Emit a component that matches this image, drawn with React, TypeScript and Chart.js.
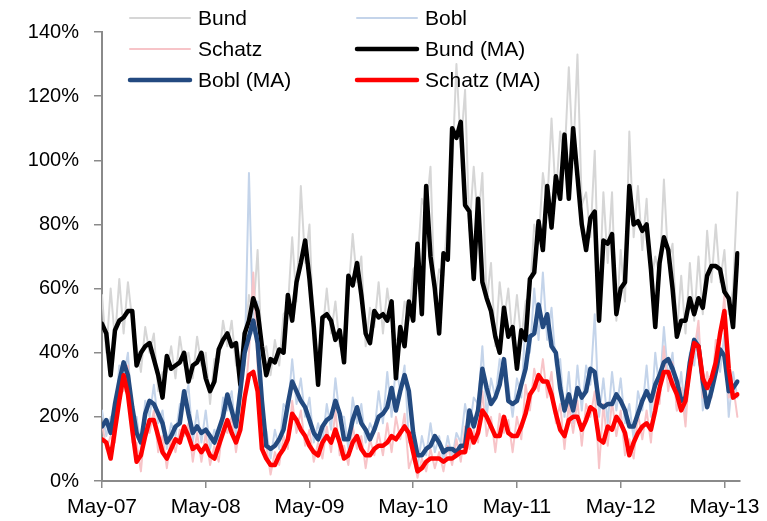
import React, { useEffect, useRef } from "react";
import { Chart, registerables } from "chart.js";

Chart.register(...registerables);

const FONT = "'Liberation Sans', Arial, sans-serif";

// x-axis tick labels and their positions (months since May-07)
const tickLabels = ["May-07", "May-08", "May-09", "May-10", "May-11", "May-12", "May-13"];
const tickMonths = [0, 12, 24, 36, 48, 60, 72];

// semi-monthly observations (values in %)
const bundRaw = [
  58, 40, 60, 44, 63, 46, 62, 50, 42, 34,
  48, 40, 46, 28, 34, 34, 42, 32, 45, 36,
  40, 32, 45, 36, 40, 24, 38, 37, 50, 42,
  50, 36, 38, 42, 58, 52, 72, 38, 42, 33,
  44, 36, 52, 54, 76, 56, 92, 68, 80, 44,
  40, 46, 60, 46, 56, 42, 46, 58, 77, 62,
  70, 42, 54, 48, 62, 46, 60, 50, 44, 44,
  56, 50, 66, 68, 88, 84, 98, 56, 66, 64,
  84, 96, 130, 104, 122, 78, 98, 80, 96, 56,
  68, 42, 62, 50, 60, 44, 58, 44, 56, 58,
  80, 74, 96, 86, 113, 88, 109, 100, 129, 100,
  133, 86, 90, 76, 103, 56, 90, 68, 90, 50,
  72, 56, 109, 76, 92, 72, 88, 62, 70, 64,
  94, 68, 74, 46, 64, 46, 68, 50, 70, 52,
  78, 62, 80, 62, 72, 52, 60, 90,
];
const boblRaw = [
  22, 14, 20, 20, 36, 32, 40, 18, 20, 10,
  25, 20, 30, 18, 22, 10, 18, 14, 24, 24,
  30, 12, 22, 12, 22, 10, 16, 12, 26, 22,
  28, 14, 34, 36, 96, 46, 56, 16, 16, 7,
  16, 10, 24, 22, 38, 24, 32, 20, 26, 12,
  18, 12, 24, 16, 32, 20, 20, 10, 26, 18,
  24, 12, 18, 15, 28, 18, 34, 20, 36, 28,
  36, 12, 13, 4, 14, 8, 18, 9, 14, 6,
  14, 7, 15, 12, 24, 16, 26, 24, 42, 20,
  32, 26, 38, 34, 30, 20, 32, 26, 50, 40,
  60, 44, 65, 44, 54, 36, 38, 20, 34, 18,
  36, 22, 36, 30, 52, 20, 32, 18, 34, 22,
  32, 18, 24, 13, 28, 22, 36, 20, 40, 28,
  48, 32, 40, 22, 34, 20, 40, 36, 48, 22,
  30, 26, 42, 34, 46, 20, 34, 26,
];
const schatzRaw = [
  18, 10, 14, 12, 32, 28, 36, 12, 12, 3,
  18, 15, 22, 9, 14, 4, 14, 9, 16, 14,
  18, 6, 15, 6, 15, 5, 11, 6, 18, 15,
  20, 9, 18, 24, 40, 65, 36, 10, 11, 2,
  9, 5, 14, 10, 25, 15, 22, 11, 16, 6,
  12, 7, 17, 9, 22, 8, 11, 5, 17, 10,
  14, 4, 13, 8, 15, 8, 18, 9, 20, 13,
  21, 4, 8, 1, 7, 3, 10, 4, 9, 3,
  11, 5, 13, 6, 17, 10, 16, 12, 28, 14,
  20, 9, 21, 15, 19, 9, 20, 13, 30, 22,
  35, 28, 38, 26, 34, 18, 24, 10, 24, 15,
  25, 11, 24, 20, 28, 4, 24, 11, 25, 14,
  22, 8, 13, 7, 21, 13, 22, 12, 28, 24,
  42, 28, 37, 22, 29, 17, 37, 40, 50, 26,
  34, 26, 44, 44, 58, 26, 30, 20,
];
const bundMA = [
  49, 46, 33, 47, 50, 51, 53, 53, 36, 40,
  42, 43, 38, 33, 26, 39, 35, 36, 37, 40,
  31, 36, 37, 40, 32, 28, 31, 41, 44, 46,
  42, 43, 30, 46, 50, 57, 53, 42, 33, 38,
  37, 41, 40, 58, 50, 62, 68, 75, 63, 48,
  30, 51, 52, 50, 44, 47, 37, 64, 61, 68,
  58, 46, 43, 53, 51, 52, 50, 56, 32, 48,
  42, 56, 50, 74, 52, 92, 70, 60, 46, 71,
  69, 110, 107, 112, 86, 84, 63, 88, 62, 57,
  53, 45, 40, 54, 45, 48, 35, 47, 44, 63,
  65, 81, 72, 92, 79, 95, 88, 108, 88, 110,
  95, 80, 72, 82, 84, 50, 75, 74, 77, 52,
  60, 62, 92, 80, 81, 78, 80, 66, 48, 68,
  76, 72, 60, 45, 50, 50, 57, 52, 57, 54,
  64, 67, 67, 66, 59, 57, 48, 71,
];
const boblMA = [
  17, 19, 15, 24, 31, 37, 33, 23, 15, 12,
  21, 25, 24, 21, 18, 12, 14, 17, 18, 28,
  21, 15, 17, 15, 16, 14, 12, 16, 20, 27,
  22, 17, 28, 40, 45, 50, 43, 25, 11, 10,
  11, 13, 16, 24, 31, 28, 25, 23, 19, 15,
  13, 17, 19, 20, 25, 21, 13, 13, 19, 23,
  18, 16, 13, 16, 20, 21, 23, 29, 22, 28,
  33, 28, 15, 8, 8, 10, 11, 14, 12, 9,
  10, 10, 9, 11, 11, 22, 17, 22, 35, 29,
  24, 26, 30, 38, 25, 24, 25, 30, 35, 45,
  46, 55, 48, 52, 42, 40, 29, 22, 27, 22,
  29, 26, 28, 35, 34, 24, 23, 24, 24, 27,
  25, 22, 17, 17, 21, 25, 28, 25, 30, 33,
  37, 38, 35, 31, 25, 26, 37, 44, 42, 31,
  23, 28, 34, 41, 39, 28, 29, 31,
];
const schatzMA = [
  13, 12, 7, 16, 25, 33, 27, 16, 6, 8,
  14, 19, 19, 14, 9, 7, 10, 13, 12, 17,
  14, 10, 11, 9, 11, 8, 7, 11, 15, 19,
  15, 12, 16, 26, 33, 34, 28, 10, 7, 5,
  5, 8, 10, 13, 21, 19, 16, 14, 11, 9,
  8, 12, 14, 12, 16, 12, 7, 8, 12, 14,
  10, 8, 8, 10, 11, 11, 12, 14, 13, 15,
  17, 15, 9, 3, 4, 6, 7, 7, 7, 6,
  7, 7, 8, 9, 9, 16, 12, 15, 22, 20,
  17, 14, 14, 20, 15, 14, 14, 17, 21, 27,
  29, 33, 31, 31, 27, 21, 16, 14, 19, 20,
  20, 16, 19, 23, 22, 13, 12, 17, 16, 20,
  18, 15, 8, 12, 15, 17, 18, 16, 22, 29,
  34, 34, 30, 27, 22, 25, 35, 43, 42, 32,
  29, 32, 37, 46, 53, 35, 26, 27,
];

// time axis: months since May-07, one observation every half month
const months = bundMA.map((_, i) => i / 2);

const toPoints = (vals: number[]) => vals.map((v, i) => ({ x: months[i], y: v }));

const legendPlugin = {
  id: "gridLegend",
  afterDraw(chart: any) {
    const ctx = chart.ctx;
    const cols = [130, 357];
    const rows = [18, 49, 80];
    chart.data.datasets.forEach((ds: any, i: number) => {
      const x0 = cols[i % 2];
      const y = rows[Math.floor(i / 2)];
      ctx.save();
      ctx.strokeStyle = ds.borderColor;
      ctx.lineWidth = ds.borderWidth;
      ctx.lineCap = "round";
      ctx.beginPath();
      ctx.moveTo(x0, y);
      ctx.lineTo(x0 + 60, y);
      ctx.stroke();
      ctx.fillStyle = "#000";
      ctx.font = `21px ${FONT}`;
      ctx.textBaseline = "middle";
      ctx.textAlign = "left";
      ctx.fillText(ds.label, x0 + 68, y + 1);
      ctx.restore();
    });
  },
};

export default function App() {
  const ref = useRef<HTMLCanvasElement | null>(null);

  useEffect(() => {
    if (!ref.current) return;
    const chart = new Chart(ref.current, {
      type: "line",
      data: {
        datasets: [
          { label: "Bund", data: toPoints(bundRaw), borderColor: "#d6d6d6", borderWidth: 2, order: 6 },
          { label: "Bobl", data: toPoints(boblRaw), borderColor: "#c4d4ea", borderWidth: 2, order: 5 },
          { label: "Schatz", data: toPoints(schatzRaw), borderColor: "#f7c4c8", borderWidth: 2, order: 4 },
          { label: "Bund (MA)", data: toPoints(bundMA), borderColor: "#000000", borderWidth: 4.5, order: 3 },
          { label: "Bobl (MA)", data: toPoints(boblMA), borderColor: "#234a80", borderWidth: 4.5, order: 2 },
          { label: "Schatz (MA)", data: toPoints(schatzMA), borderColor: "#ff0000", borderWidth: 4.5, order: 1 },
        ] as any,
      },
      options: {
        responsive: false,
        animation: false,
        layout: { padding: { top: 32, right: 24, bottom: 0, left: 0 } },
        elements: {
          point: { radius: 0 },
          line: { tension: 0, borderJoinStyle: "round", borderCapStyle: "round" },
        },
        plugins: {
          legend: { display: false },
          tooltip: { enabled: false },
        },
        scales: {
          x: {
            type: "linear",
            min: 0,
            max: 73.75,
            afterBuildTicks: (s: any) => {
              s.ticks = tickMonths.map((v) => ({ value: v }));
            },
            afterFit: (s: any) => {
              s.height = 40;
            },
            ticks: {
              autoSkip: false,
              maxRotation: 0,
              padding: 7,
              color: "#000",
              font: { family: FONT, size: 21 },
              callback: (v: any) => {
                const k = tickMonths.indexOf(Number(v));
                return k >= 0 ? tickLabels[k] : "";
              },
            },
            grid: { drawOnChartArea: false, drawTicks: true, tickLength: 7, color: "#8a8a8a", lineWidth: 1.5 },
            border: { color: "#8a8a8a", width: 2 },
          },
          y: {
            min: 0,
            max: 140,
            afterFit: (s: any) => {
              s.width = 102;
            },
            ticks: {
              stepSize: 20,
              padding: 15,
              color: "#000",
              font: { family: FONT, size: 20 },
              callback: (v: any) => `${v}%`,
            },
            grid: { drawOnChartArea: false, drawTicks: true, tickLength: 8, color: "#8a8a8a", lineWidth: 1.5 },
            border: { color: "#8a8a8a", width: 2 },
          },
        },
      } as any,
      plugins: [legendPlugin],
    });
    return () => chart.destroy();
  }, []);

  return (
    <div style={{ position: "absolute", left: 0, top: 0, width: 767, height: 521, background: "#fff" }}>
      <canvas ref={ref} width={767} height={521} style={{ display: "block" }} />
    </div>
  );
}
